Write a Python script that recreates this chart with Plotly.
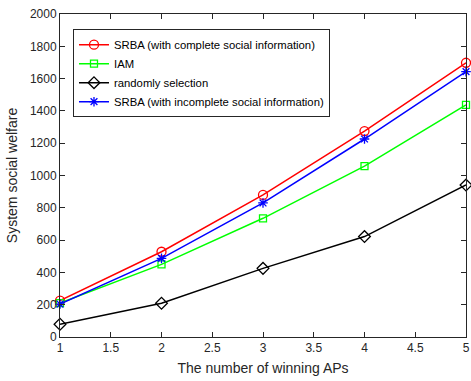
import plotly.graph_objects as go

# Number of winning APs
aps = [1, 2, 3, 4, 5]

# System social welfare for each scheme
srba_complete = [225, 528, 880, 1275, 1698]
iam = [210, 450, 735, 1058, 1437]
random_sel = [79, 209, 425, 622, 941]
srba_incomplete = [204, 487, 830, 1226, 1643]

names = [
    "SRBA (with complete social information)",
    "IAM",
    "randomly selection",
    "SRBA (with incomplete social information)",
]

x_ticks = [1, 1.5, 2, 2.5, 3, 3.5, 4, 4.5, 5]
y_ticks = list(range(0, 2001, 200))

series = [
    (srba_complete, "#ff0000", "circle-open", 9),
    (iam, "#00ff00", "square-open", 7),
    (random_sel, "#000000", "diamond-open", 9),
    (srba_incomplete, "#0000ff", "asterisk-open", 8),
]

fig = go.Figure()
for (vals, color, sym, size), name in zip(series, names):
    fig.add_trace(go.Scatter(
        x=aps, y=vals, name=name, mode="lines+markers",
        line=dict(color=color, width=1.5),
        marker=dict(symbol=sym, size=size, color=color,
                    line=dict(color=color, width=1.3)),
        cliponaxis=False,
    ))

axis_common = dict(
    showline=True, linecolor="#262626", linewidth=1, mirror="ticks",
    ticks="inside", ticklen=5, tickcolor="#262626",
    showgrid=False, zeroline=False, ticklabeloverflow="allow",
    tickfont=dict(size=12, color="#262626"),
)

fig.update_layout(
    width=471, height=381,
    margin=dict(l=60, r=1, t=14, b=44),
    paper_bgcolor="white", plot_bgcolor="white",
    font=dict(family="Liberation Sans, Arial, sans-serif", size=12, color="#262626"),
    showlegend=True,
    legend=dict(
        x=0.032, y=0.953, xanchor="left", yanchor="top",
        bordercolor="#262626", borderwidth=1, bgcolor="white",
        font=dict(size=11.3, color="#000000"),
        tracegroupgap=0, itemwidth=30,
    ),
    xaxis=dict(range=[1, 5], tickvals=x_ticks,
               ticktext=[f"{t:g}" for t in x_ticks],
               title=dict(text="The number of winning APs", standoff=8,
                          font=dict(size=14)),
               **axis_common),
    yaxis=dict(range=[0, 2000], tickvals=y_ticks,
               title=dict(text="System social welfare", standoff=8,
                          font=dict(size=14)),
               **axis_common),
)

fig.write_html("out.html")
